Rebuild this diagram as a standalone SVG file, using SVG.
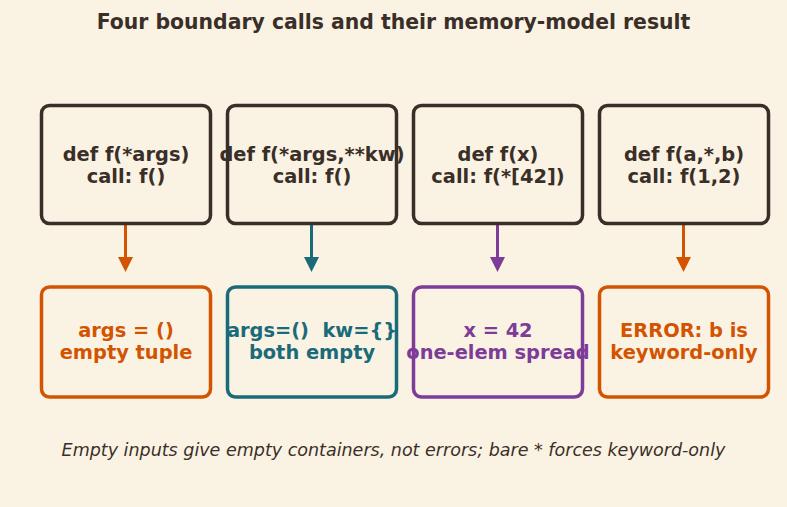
<svg xmlns="http://www.w3.org/2000/svg" width="787" height="507" viewBox="0 0 787 507">
<defs>
<style>
.t{font-family:"DejaVu Sans",sans-serif;font-weight:bold;font-size:19.4px;text-anchor:middle}
.box{fill:#faf2e3;stroke-width:3.5}
.dark{stroke:#3a2f28}
.ttl{font-family:"DejaVu Sans",sans-serif;font-weight:bold;font-size:20.4px;text-anchor:middle;fill:#3a2f28}
.foot{font-family:"DejaVu Sans",sans-serif;font-style:italic;font-size:17.5px;text-anchor:middle;fill:#3a2f28}
.c{stroke-width:3;fill:none}
</style>
<marker id="mo" markerWidth="16" markerHeight="16" refX="5" refY="7.5" orient="auto" markerUnits="userSpaceOnUse"><path d="M0,0 L15,7.5 L0,15 Z" fill="#d35400"/></marker>
<marker id="mt" markerWidth="16" markerHeight="16" refX="5" refY="7.5" orient="auto" markerUnits="userSpaceOnUse"><path d="M0,0 L15,7.5 L0,15 Z" fill="#1a6b7a"/></marker>
<marker id="mp" markerWidth="16" markerHeight="16" refX="5" refY="7.5" orient="auto" markerUnits="userSpaceOnUse"><path d="M0,0 L15,7.5 L0,15 Z" fill="#7d3c98"/></marker>
</defs>
<rect width="787" height="507" fill="#faf2e3"/>
<text class="ttl" x="393.5" y="29">Four boundary calls and their memory-model result</text>
<g id="connectors">
<line class="c" x1="125.5" y1="224" x2="125.5" y2="262" stroke="#d35400" marker-end="url(#mo)"/>
<line class="c" x1="311.5" y1="224" x2="311.5" y2="262" stroke="#1a6b7a" marker-end="url(#mt)"/>
<line class="c" x1="497.5" y1="224" x2="497.5" y2="262" stroke="#7d3c98" marker-end="url(#mp)"/>
<line class="c" x1="683.5" y1="224" x2="683.5" y2="262" stroke="#d35400" marker-end="url(#mo)"/>
</g>
<g id="n1"><rect class="box dark" x="41.5" y="105.5" width="169" height="118" rx="8"/><text class="t" fill="#3a2f28" x="126" y="161">def f(*args)</text><text class="t" fill="#3a2f28" x="126" y="183">call: f()</text></g>
<g id="n2"><rect class="box dark" x="227.5" y="105.5" width="169" height="118" rx="8"/><text class="t" fill="#3a2f28" x="312" y="161">def f(*args,**kw)</text><text class="t" fill="#3a2f28" x="312" y="183">call: f()</text></g>
<g id="n3"><rect class="box dark" x="413.5" y="105.5" width="169" height="118" rx="8"/><text class="t" fill="#3a2f28" x="498" y="161">def f(x)</text><text class="t" fill="#3a2f28" x="498" y="183">call: f(*[42])</text></g>
<g id="n4"><rect class="box dark" x="599.5" y="105.5" width="169" height="118" rx="8"/><text class="t" fill="#3a2f28" x="684" y="161">def f(a,*,b)</text><text class="t" fill="#3a2f28" x="684" y="183">call: f(1,2)</text></g>
<g id="r1"><rect class="box" stroke="#d35400" x="41.5" y="287" width="169" height="110" rx="8"/><text class="t" fill="#d35400" x="126" y="337">args = ()</text><text class="t" fill="#d35400" x="126" y="359">empty tuple</text></g>
<g id="r2"><rect class="box" stroke="#1a6b7a" x="227.5" y="287" width="169" height="110" rx="8"/><text class="t" fill="#1a6b7a" x="312" y="337" xml:space="preserve">args=()  kw={}</text><text class="t" fill="#1a6b7a" x="312" y="359">both empty</text></g>
<g id="r3"><rect class="box" stroke="#7d3c98" x="413.5" y="287" width="169" height="110" rx="8"/><text class="t" fill="#7d3c98" x="498" y="337">x = 42</text><text class="t" fill="#7d3c98" x="498" y="359">one-elem spread</text></g>
<g id="r4"><rect class="box" stroke="#d35400" x="599.5" y="287" width="169" height="110" rx="8"/><text class="t" fill="#d35400" x="684" y="337">ERROR: b is</text><text class="t" fill="#d35400" x="684" y="359">keyword-only</text></g>
<text class="foot" x="393.5" y="456">Empty inputs give empty containers, not errors; bare * forces keyword-only</text>
</svg>
